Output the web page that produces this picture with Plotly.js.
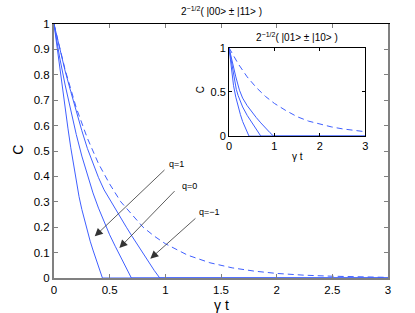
<!DOCTYPE html>
<html>
<head>
<meta charset="utf-8">
<script src="https://cdn.plot.ly/plotly-3.0.1.min.js"></script>
<style>
  html, body { margin: 0; padding: 0; background: #fff; }
  #chart { width: 415px; height: 313px; }
</style>
</head>
<body>
<div id="chart"></div>
<script>
// ---- Main plot: 2^{-1/2}(|00> ± |11>) ----
const tMainQ1 = [0, 0.025, 0.05, 0.075, 0.1, 0.125, 0.15, 0.175, 0.2, 0.225, 0.25, 0.275, 0.3, 0.325, 0.35, 0.375, 0.4, 0.435, 3];
const cMainQ1 = [1, 0.915, 0.83, 0.75, 0.67, 0.59, 0.515, 0.445, 0.38, 0.32, 0.27, 0.225, 0.185, 0.145, 0.11, 0.075, 0.045, 0, 0];

const tMainQ0 = [0, 0.05, 0.1, 0.15, 0.2, 0.25, 0.3, 0.35, 0.4, 0.45, 0.5, 0.55, 0.6, 0.65, 0.695, 3];
const cMainQ0 = [1, 0.87, 0.76, 0.66, 0.565, 0.48, 0.405, 0.335, 0.275, 0.22, 0.17, 0.125, 0.08, 0.04, 0, 0];

const tMainQm1 = [0, 0.05, 0.1, 0.15, 0.2, 0.25, 0.3, 0.35, 0.4, 0.45, 0.5, 0.55, 0.6, 0.65, 0.7, 0.75, 0.8, 0.85, 0.9, 0.95, 3];
const cMainQm1 = [1, 0.905, 0.815, 0.735, 0.655, 0.58, 0.51, 0.45, 0.395, 0.347, 0.31, 0.27, 0.235, 0.2, 0.165, 0.13, 0.095, 0.06, 0.03, 0, 0];

const tMainDash = [0, 0.1, 0.2, 0.3, 0.4, 0.5, 0.6, 0.7, 0.8, 0.9, 1.0, 1.2, 1.4, 1.6, 1.8, 2.0, 2.25, 2.5, 2.75, 3.0];
const cMainDash = [1, 0.82, 0.67, 0.55, 0.45, 0.37, 0.30, 0.25, 0.20, 0.165, 0.135, 0.09, 0.06, 0.04, 0.027, 0.018, 0.011, 0.007, 0.004, 0.0025];

// ---- Inset: 2^{-1/2}(|01> ± |10>) ----
const tInsQ1 = [0, 0.05, 0.1, 0.15, 0.2, 0.25, 0.3, 0.35, 0.4, 0.44, 3];
const cInsQ1 = [1, 0.77, 0.57, 0.44, 0.33, 0.245, 0.165, 0.10, 0.04, 0, 0];

const tInsQ0 = [0, 0.05, 0.1, 0.16, 0.2, 0.3, 0.4, 0.46, 0.5, 0.6, 0.7, 3];
const cInsQ0 = [1, 0.84, 0.7, 0.53, 0.46, 0.33, 0.235, 0.19, 0.16, 0.08, 0, 0];

const tInsQm1 = [0, 0.05, 0.1, 0.15, 0.23, 0.3, 0.4, 0.5, 0.6, 0.7, 0.8, 0.9, 0.98, 3];
const cInsQm1 = [1, 0.88, 0.77, 0.67, 0.52, 0.43, 0.345, 0.275, 0.21, 0.15, 0.09, 0.04, 0, 0];

const tInsDash = [0, 0.1, 0.2, 0.4, 0.6, 0.8, 1.0, 1.25, 1.5, 1.75, 2.0, 2.25, 2.5, 2.75, 3.0];
const cInsDash = [1, 0.905, 0.82, 0.67, 0.55, 0.45, 0.37, 0.29, 0.22, 0.17, 0.135, 0.105, 0.082, 0.064, 0.05];

// ---- Labels ----
const mainTitle = '2<sup>\u22121/2</sup>( |00&gt; \u00b1 |11&gt; )';
const insetTitle = '2<sup>\u22121/2</sup>( |01&gt; \u00b1 |10&gt; )';
const yLabel = 'C';
const xLabel = '\u03b3 t';
const qLabels = ['q=1', 'q=0', 'q=\u22121'];
// arrow heads (t, C) and tails (t, C), label anchors
const arrowHeadT = [0.366, 0.587, 0.865];
const arrowHeadC = [0.164, 0.118, 0.076];
const arrowTailT = [1.006, 1.096, 1.284];
const arrowTailC = [0.431, 0.348, 0.240];
const labelT = [1.015, 1.135, 1.284];
const labelC = [0.449, 0.363, 0.260];

const blue = '#3f5fff';
const solid = {color: blue, width: 1};
const dashed = {color: blue, width: 1, dash: '6px,4px'};
const FONT = 'Liberation Sans, Arial, sans-serif';

const traces = [
  {x: tMainQ1, y: cMainQ1, mode: 'lines', line: solid, xaxis: 'x', yaxis: 'y'},
  {x: tMainQ0, y: cMainQ0, mode: 'lines', line: solid, xaxis: 'x', yaxis: 'y'},
  {x: tMainQm1, y: cMainQm1, mode: 'lines', line: solid, xaxis: 'x', yaxis: 'y'},
  {x: tMainDash, y: cMainDash, mode: 'lines', line: dashed, xaxis: 'x', yaxis: 'y'},
  {x: tInsQ1, y: cInsQ1, mode: 'lines', line: solid, xaxis: 'x2', yaxis: 'y2'},
  {x: tInsQ0, y: cInsQ0, mode: 'lines', line: solid, xaxis: 'x2', yaxis: 'y2'},
  {x: tInsQm1, y: cInsQm1, mode: 'lines', line: solid, xaxis: 'x2', yaxis: 'y2'},
  {x: tInsDash, y: cInsDash, mode: 'lines', line: dashed, xaxis: 'x2', yaxis: 'y2'},
  {x: [], y: [], mode: 'lines', xaxis: 'x3', yaxis: 'y'}
].map(t => Object.assign({showlegend: false, hoverinfo: 'skip'}, t));

const txt = (text, x, y, size, extra) => Object.assign({
  text: text, xref: 'paper', yref: 'paper', x: x, y: y,
  xanchor: 'center', yanchor: 'middle', showarrow: false,
  font: {size: size, family: FONT, color: '#000'}
}, extra || {});

const annotations = [
  txt(mainTitle, 0.5, 1.051, 10),
  txt(insetTitle, 0.729, 0.949, 10),
  txt(yLabel, -0.106, 0.503, 14, {textangle: -90}),
  txt(xLabel, 0.5, -0.108, 14),
  txt(yLabel, 0.438, 0.740, 10, {textangle: -90}),
  txt(xLabel, 0.728, 0.477, 10)
];
for (let i = 0; i < 3; i++) {
  annotations.push({
    text: '', x: arrowHeadT[i], y: arrowHeadC[i], xref: 'x', yref: 'y',
    ax: arrowTailT[i], ay: arrowTailC[i], axref: 'x', ayref: 'y',
    showarrow: true, arrowhead: 2, arrowsize: 2, arrowwidth: 0.8, arrowcolor: '#333', standoff: 0, startstandoff: 0
  });
  annotations.push({
    text: qLabels[i], x: labelT[i], y: labelC[i], xref: 'x', yref: 'y',
    xanchor: 'left', yanchor: 'middle', showarrow: false,
    font: {size: 9, family: FONT, color: '#000'}
  });
}

const layout = {
  width: 415, height: 313,
  margin: {l: 53.5, r: 27, t: 24, b: 35.3, pad: 0},
  paper_bgcolor: '#fff', plot_bgcolor: '#fff',
  font: {family: FONT, size: 11, color: '#000'},
  showlegend: false,
  xaxis: {
    domain: [0, 1], range: [0, 3], tick0: 0, dtick: 0.5,
    showline: true, linecolor: '#808080', linewidth: 2, mirror: false,
    ticks: 'inside', ticklen: 4, tickcolor: '#808080', tickwidth: 1,
    showgrid: false, zeroline: false, tickfont: {size: 11.5, family: FONT, color: '#000'},
    anchor: 'y', fixedrange: true
  },
  xaxis3: {
    overlaying: 'x', side: 'top', anchor: 'y', range: [0, 3], tick0: 0, dtick: 0.5,
    showline: true, linecolor: '#000', linewidth: 1,
    ticks: 'inside', ticklen: 4, tickcolor: '#808080', tickwidth: 1,
    showticklabels: false, showgrid: false, zeroline: false
  },
  yaxis: {
    domain: [0, 1], range: [0, 1], tick0: 0, dtick: 0.1,
    showline: true, linecolor: '#808080', linewidth: 2, mirror: 'ticks',
    ticks: 'inside', ticklen: 4, tickcolor: '#808080', tickwidth: 1,
    showgrid: false, zeroline: false, tickfont: {size: 11.5, family: FONT, color: '#000'},
    anchor: 'x', fixedrange: true
  },
  xaxis2: {
    domain: [0.524, 0.932], range: [0, 3], dtick: 1, anchor: 'y2',
    showline: true, linecolor: '#000', linewidth: 1, mirror: 'ticks',
    ticks: 'inside', ticklen: 3, tickcolor: '#000',
    showgrid: false, zeroline: false, tickfont: {size: 11, family: FONT, color: '#000'}
  },
  yaxis2: {
    domain: [0.5585, 0.9066], range: [0, 1], dtick: 0.5, anchor: 'x2',
    showline: true, linecolor: '#000', linewidth: 1, mirror: 'ticks',
    ticks: 'inside', ticklen: 3, tickcolor: '#000',
    showgrid: false, zeroline: false, tickfont: {size: 11, family: FONT, color: '#000'}
  },
  annotations: annotations
};

Plotly.newPlot('chart', traces, layout, {staticPlot: true, displayModeBar: false});
</script>
</body>
</html>
